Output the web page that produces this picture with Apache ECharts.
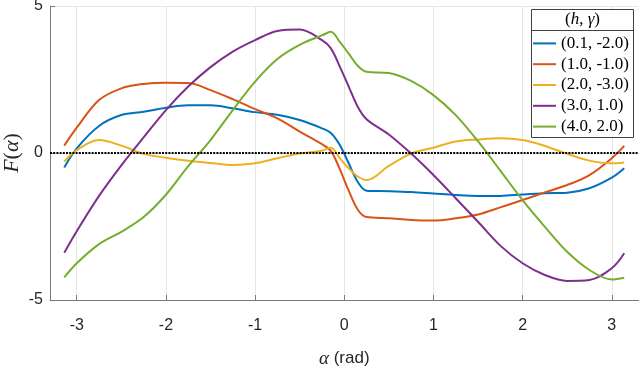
<!DOCTYPE html>
<html><head><meta charset="utf-8">
<script src="https://cdn.jsdelivr.net/npm/echarts@6/dist/echarts.min.js"></script>
<style>html,body{margin:0;padding:0;background:#fff}#c{width:640px;height:386px}</style>
</head><body><div id="c"></div>
<script>
// alpha (rad) sample positions
const alpha = [-3.14,-3,-2.75,-2.5,-2.25,-2,-1.75,-1.5,-1.25,-1,-0.75,-0.5,-0.25,-0.15,-0.05,0.05,0.15,0.25,0.5,0.75,1,1.25,1.5,1.75,2,2.25,2.5,2.75,3,3.14];
// F(alpha) per (h, gamma)
const s01_m20 = [-0.49,0.16,0.92,1.29,1.40,1.54,1.62,1.62,1.52,1.39,1.30,1.12,0.84,0.68,0.27,-0.35,-0.98,-1.28,-1.30,-1.33,-1.38,-1.43,-1.46,-1.46,-1.41,-1.37,-1.35,-1.20,-0.84,-0.52];
const s10_m10 = [0.25,0.86,1.80,2.20,2.35,2.39,2.38,2.14,1.83,1.49,1.18,0.73,0.30,0.07,-0.55,-1.28,-1.92,-2.18,-2.22,-2.28,-2.30,-2.22,-2.09,-1.85,-1.60,-1.34,-1.09,-0.75,-0.18,0.24];
const s20_m30 = [-0.29,0.10,0.44,0.25,-0.03,-0.16,-0.26,-0.34,-0.41,-0.35,-0.18,-0.02,0.08,0.18,-0.18,-0.52,-0.80,-0.92,-0.44,-0.02,0.18,0.39,0.46,0.50,0.44,0.24,-0.03,-0.26,-0.35,-0.32];
const s30_p10 = [-3.39,-2.66,-1.46,-0.42,0.53,1.46,2.26,2.92,3.45,3.84,4.15,4.20,3.84,3.56,2.94,2.26,1.58,1.15,0.63,-0.02,-0.75,-1.54,-2.34,-3.15,-3.75,-4.15,-4.35,-4.32,-3.92,-3.41];
const s40_p20 = [-4.23,-3.75,-3.10,-2.68,-2.18,-1.42,-0.45,0.44,1.46,2.43,3.20,3.68,4.00,4.12,3.78,3.38,2.97,2.76,2.72,2.45,1.97,1.29,0.40,-0.60,-1.60,-2.51,-3.36,-3.98,-4.30,-4.24];
const seriesNames = ['(0.1, -2.0)','(1.0, -1.0)','(2.0, -3.0)','(3.0, 1.0)','(4.0, 2.0)'];
const seriesValues = [s01_m20, s10_m10, s20_m30, s30_p10, s40_p20];
const xTicks = [-3,-2,-1,0,1,2,3];
const colors = ['#0072BD','#D95319','#EDB120','#7E2F8E','#77AC30'];

const chart = echarts.init(document.getElementById('c'), null, {renderer:'canvas'});
const series = seriesNames.map((n,i)=>({
  name:n, type:'line', smooth:0.35, showSymbol:false, symbol:'none',
  data: alpha.map((a,j)=>[a, seriesValues[i][j]]),
  lineStyle:{width:2, color:colors[i]}, itemStyle:{color:colors[i]}, z:2,
  emphasis:{disabled:true}
}));
series.push({
  name:'zero', type:'line', data:[], silent:true,
  markLine:{silent:true, symbol:['none','none'], label:{show:false},
    lineStyle:{color:'#000', type:[2,1.2], width:2}, data:[{yAxis:0}]}, z:1
});
const axisCol = '#7a7a7a';
chart.setOption({
  animation:false,
  color:colors,
  grid:{left:50, right:1.5, top:6, bottom:86, containLabel:false, outerBoundsMode:'none'},
  xAxis:{type:'value', min:-3.3, max:3.3,
    axisLine:{show:true, onZero:false, lineStyle:{color:axisCol, width:1}},
    axisTick:{show:true, inside:true, length:5, customValues:xTicks, lineStyle:{color:axisCol}},
    axisLabel:{customValues:xTicks, margin:18, color:'#262626', fontFamily:'Liberation Sans', fontSize:16},
    splitLine:{show:true, lineStyle:{color:'#e6e6e6', width:1}},
    name:'{a|α} (rad)', nameLocation:'middle', nameGap:49, nameMoveOverlap:false,
    nameTextStyle:{color:'#262626', fontFamily:'Liberation Sans', fontSize:17,
      rich:{a:{fontFamily:'Liberation Serif', fontStyle:'italic', fontSize:19, color:'#262626'}}}
  },
  yAxis:{type:'value', min:-5, max:5, interval:5,
    axisLine:{show:true, onZero:false, lineStyle:{color:axisCol, width:1}},
    axisTick:{show:true, inside:true, length:5, lineStyle:{color:axisCol}},
    axisLabel:{margin:7, color:'#262626', fontFamily:'Liberation Sans', fontSize:16},
    splitLine:{show:true, lineStyle:{color:'#e6e6e6', width:1}},
    name:'{f|F}{n|(}{f|α}{n|)}', nameLocation:'middle', nameRotate:90, nameGap:27, nameMoveOverlap:false,
    nameTextStyle:{color:'#262626',
      rich:{f:{fontFamily:'Liberation Serif', fontStyle:'italic', fontSize:22, color:'#262626'},
            n:{fontFamily:'Liberation Serif', fontSize:22, color:'#262626'}}}
  },
  legend:{show:true, orient:'vertical', left:533, top:33, itemGap:0, padding:0,
    itemWidth:23, itemHeight:2, icon:'rect', data:seriesNames,
    textStyle:{fontFamily:'Liberation Serif', fontSize:17, color:'#000', lineHeight:20.8},
    selectedMode:false, z:10},
  graphic:[
    {type:'rect', z:5, shape:{x:531.5, y:9.5, width:102, height:128},
      style:{fill:'#fff', stroke:'#404040', lineWidth:1}},
    {type:'line', z:6, shape:{x1:531.5, y1:30.5, x2:633.5, y2:30.5},
      style:{stroke:'#404040', lineWidth:1}},
    {type:'text', z:6, x:582.5, y:20,
      style:{text:'{n|(}{i|h}{n|, }{i|γ}{n|)}', align:'center', verticalAlign:'middle',
        rich:{n:{fontFamily:'Liberation Serif', fontSize:17, fill:'#000'},
              i:{fontFamily:'Liberation Serif', fontStyle:'italic', fontSize:17, fill:'#000'}}}}
  ],
  series:series
});
</script></body></html>
